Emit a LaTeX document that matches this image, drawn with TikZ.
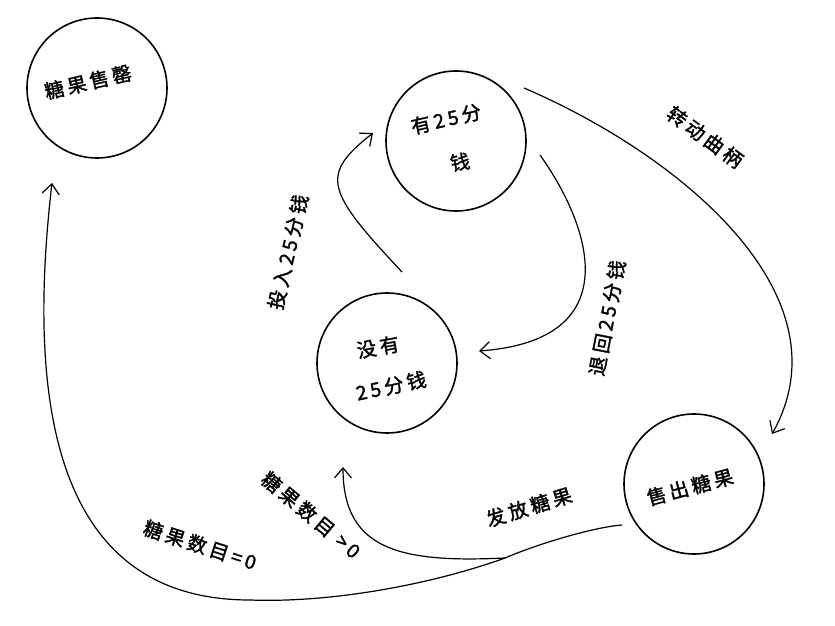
\documentclass[tikz,border=0pt]{standalone}
\usepackage{fontspec}
\newfontfamily\handcjk[LetterSpace=18, FakeBold=1.6]{Noto Sans CJK SC}
\usetikzlibrary{calc, arrows.meta}

\tikzset{
    state/.style={draw, circle, line width=1.6pt, minimum size=140pt, inner sep=0pt},
    txt/.style={font=\handcjk\fontsize{19.5}{21}\selectfont, inner sep=0pt},
    trans/.style={line width=1.2pt, -{Straight Barb[length=10pt, width=17pt]}},
    plain/.style={line width=1.2pt},
}

\begin{document}
\begin{tikzpicture}[x=1pt, y=1pt]
    \useasboundingbox (0,0) rectangle (835,625);

    \node[state] (soldout) at (97,537) {};
    \node[state] (hasq) at (456,484) {};
    \node[state] (noq) at (387,262) {};
    \node[state] (sold) at (694,141) {};

    \node[txt, rotate=13] (soldoutT) at (88,543) {糖果售罄};
    \node[txt, rotate=13] (hasqT) at (446,506) {有25分};
    \node[txt, rotate=10] (hasqU) at (460,463) {钱};
    \node[txt, rotate=10] (noqT) at (378,278) {没有};
    \node[txt, rotate=12] (noqU) at (391,239) {25分钱};
    \node[txt, rotate=15] (soldT) at (690,138) {售出糖果};

    \coordinate (insA) at ($(noq)+(15,91)$);
    \coordinate (insB) at ($(hasq)+(-83,8)$);
    \coordinate (retA) at ($(hasq)+(84,-14)$);
    \coordinate (retB) at ($(noq)+(92,12)$);
    \coordinate (turnA) at ($(hasq)+(68,53)$);
    \coordinate (turnB) at ($(sold)+(78,50)$);
    \coordinate (dispA) at ($(sold)+(-72,-41)$);
    \coordinate (split) at (505,67);
    \coordinate (moreB) at ($(noq)+(-44,-104)$);
    \coordinate (noneB) at ($(soldout)+(-45,-95)$);

    \draw[trans] (insA) .. controls (325,435) and (320,450) .. (insB);
    \draw[trans] (retA) .. controls (590,400) and (630,285) .. (retB);
    \draw[trans] (turnA) .. controls (680,470) and (850,330) .. (turnB);
    \draw[plain] (dispA) .. controls (595,98) and (540,82) .. (split);
    \draw[trans] (split) .. controls (400,62) and (343,75) .. (moreB);
    \draw[trans] (split) .. controls (430,40) and (330,22) .. (250,25)
        .. controls (60,25) and (25,210) .. (noneB);

    \node[txt, rotate=77] (insT) at (288,373) {投入25分钱};
    \node[txt, rotate=79] (retT) at (607,307) {退回25分钱};
    \node[txt, rotate=-36] (turnT) at (705,488) {转动曲柄};
    \node[txt, rotate=17] (dispT) at (529,118) {发放糖果};
    \node[txt, rotate=-40] (moreT) at (311,110) {糖果数目 >0};
    \node[txt, rotate=-18] (noneT) at (200,80) {糖果数目=0};
\end{tikzpicture}
\end{document}
